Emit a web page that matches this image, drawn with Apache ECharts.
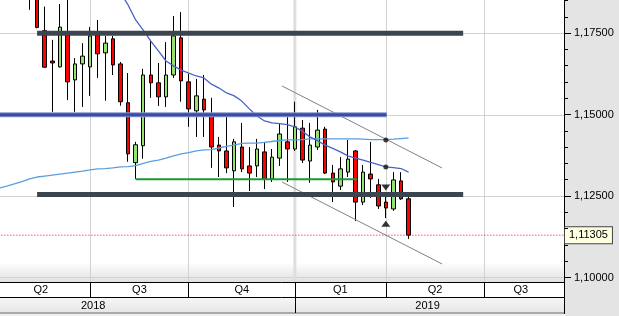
<!DOCTYPE html>
<html><head><meta charset="utf-8">
<script src="https://cdn.jsdelivr.net/npm/echarts@6/dist/echarts.min.js"></script>
<style>html,body{margin:0;padding:0;background:#fff;}
#c{width:619px;height:316px;background:linear-gradient(to right,#ffffff 0px,#ffffff 565px,#e4e4e4 565px,#e4e4e4 619px);}</style>
</head><body><div id="c"></div>
<script>
// ---- categories (weekly bars) ----
const weeks = ['2018-04-09','2018-04-16','2018-04-23','2018-04-30','2018-05-07','2018-05-14','2018-05-21','2018-05-28','2018-06-04','2018-06-11',
'2018-06-18','2018-06-25','2018-07-02','2018-07-09','2018-07-16','2018-07-23','2018-07-30','2018-08-06','2018-08-13','2018-08-20',
'2018-08-27','2018-09-03','2018-09-10','2018-09-17','2018-09-24','2018-10-01','2018-10-08','2018-10-15','2018-10-22','2018-10-29',
'2018-11-05','2018-11-12','2018-11-19','2018-11-26','2018-12-03','2018-12-10','2018-12-17','2018-12-24','2018-12-31','2019-01-07',
'2019-01-14','2019-01-21','2019-01-28','2019-02-04','2019-02-11','2019-02-18','2019-02-25','2019-03-04','2019-03-11','2019-03-18',
'2019-03-25','2019-04-01','2019-04-08','2019-04-15','2019-04-22','2019-04-29','2019-05-06','2019-05-13','2019-05-20','2019-05-27',
'2019-06-03','2019-06-10','2019-06-17','2019-06-24','2019-07-01','2019-07-08','2019-07-15','2019-07-22','2019-07-29','2019-08-05',
'2019-08-12','2019-08-19','2019-08-26','2019-09-02','2019-09-09'];

// ---- candles (from 2018-05-07) ----
const firstCandleWeek = '2018-05-07';
const opens  = [1.1960,1.1940,1.1758,1.1665,1.1647,1.1748,1.1607,1.1656,1.1647,1.1745,1.1690,1.1733,1.1656,1.1537,1.1353,1.1405,1.1622,1.1598,1.1555,1.1622,1.1736,1.1601,1.1512,1.1548,1.1496,1.1407,1.1389,1.1328,1.1401,1.1343,1.1343,1.1386,1.1303,1.1367,1.1417,1.1395,1.1459,1.1358,1.1401,1.1456,1.1321,1.1281,1.1324,1.1389,1.1232,1.1318,1.1285,1.1232,1.1211,1.1297,1.1242];
const closes = [1.1940,1.1768,1.1646,1.1659,1.1769,1.1601,1.1656,1.1680,1.1742,1.1687,1.1720,1.1653,1.1540,1.1380,1.1408,1.1622,1.1598,1.1555,1.1622,1.1742,1.1604,1.1518,1.1558,1.1515,1.1401,1.1389,1.1337,1.1417,1.1334,1.1321,1.1395,1.1303,1.1370,1.1441,1.1395,1.1463,1.1361,1.1407,1.1453,1.1321,1.1294,1.1334,1.1364,1.1232,1.1324,1.1303,1.1220,1.1214,1.1300,1.1242,1.11305];
const lows   = [1.1822,1.1765,1.1644,1.1509,1.1645,1.1545,1.1509,1.1524,1.1558,1.1613,1.1543,1.1622,1.1528,1.1356,1.1303,1.1365,1.1552,1.1527,1.1524,1.1613,1.1540,1.1463,1.1432,1.1432,1.1337,1.1309,1.1321,1.1217,1.1324,1.1266,1.1309,1.1272,1.1294,1.1343,1.1294,1.1389,1.1352,1.1291,1.1392,1.1318,1.1232,1.1269,1.1309,1.1174,1.1223,1.1245,1.1211,1.1183,1.1205,1.1239,1.1119];
const highs  = [1.1995,1.1997,1.1832,1.1730,1.1840,1.1860,1.1674,1.1720,1.1769,1.1791,1.1742,1.1742,1.1662,1.1628,1.1417,1.1641,1.1730,1.1659,1.1723,1.1803,1.1815,1.1625,1.1610,1.1622,1.1552,1.1432,1.1493,1.1426,1.1475,1.1401,1.1426,1.1417,1.1395,1.1472,1.1493,1.1540,1.1484,1.1475,1.1515,1.1463,1.1346,1.1370,1.1423,1.1392,1.1346,1.1417,1.1303,1.1260,1.1324,1.1324,1.1263];

// ---- moving averages ----
const maFastStart = '2018-04-09';
const maFast = [1.1275,1.1281,1.1288,1.1295,1.1303,1.1309,1.1312,1.1315,1.1318,1.1321,1.1324,1.1327,1.1331,1.1334,1.1335,1.1337,1.1340,1.1341,1.1344,1.1351,1.1357,1.1361,1.1367,1.1374,1.1380,1.1384,1.1389,1.1392,1.1393,1.1398,1.1403,1.1407,1.1412,1.1413,1.1413,1.1415,1.1418,1.1421,1.1423,1.1423,1.1424,1.1426,1.1426,1.1426,1.1426,1.1426,1.1426,1.1426,1.1425,1.1424,1.1424,1.1424,1.1425,1.1427,1.1429];
const maSlowStart = '2018-07-16';
const maSlow = [1.1950,1.1911,1.1874,1.1837,1.1791,1.1760,1.1726,1.1696,1.1665,1.1650,1.1637,1.1628,1.1619,1.1613,1.1594,1.1582,1.1567,1.1558,1.1542,1.1518,1.1496,1.1481,1.1475,1.1473,1.1470,1.1463,1.1449,1.1432,1.1420,1.1407,1.1397,1.1386,1.1374,1.1367,1.1361,1.1354,1.1347,1.1340,1.1338,1.1335,1.1324];

// ---- drawn levels (x = week index, y = price) ----
const resistanceTop = [[5, 1.175], [61.2, 1.175]];
const supportBottom = [[5, 1.1255], [61.2, 1.1255]];
const pivotLevel = [[-0.5, 1.15], [51.1, 1.15]];
const greenLevel = [[18, 1.1302], [47.25, 1.1302]];
const channelTop = [[37.31, 1.15883], [58.42, 1.13367]];
const channelBottom = [[37.31, 1.12937], [58.42, 1.10421]];
const crossDots = [[51, 1.14226], [51, 1.13397]];
const fractalHigh = [[51, 1.12768]];
const fractalLow = [[51, 1.11657]];

// ---- axes ----
const quarterBounds = [12, 25, 39, 51, 64];
const yearBoundWeek = 39;
const quarterLabelPos = [5.5, 18.5, 32, 45, 57.5, 68.8];
const quarterLabels = ['Q2','Q3','Q4','Q1','Q2','Q3'];
const yearBounds = [39];
const yearLabelPos = [12.4, 56.5];
const yearLabels = ['2018','2019'];
const priceTicks = [1.100, 1.125, 1.150, 1.175];
const minorPriceTicks = [1.105,1.110,1.115,1.120,1.130,1.135,1.140,1.145,1.155,1.160,1.165,1.170,1.180,1.185];
const yMin = 1.09868, yMax = 1.18522;
const xMin = -0.5, xMax = 74.5;

// ---- build ----
const start = weeks.indexOf(firstCandleWeek);
const candleData = weeks.map(() => ['-','-','-','-']);
opens.forEach((o, i) => { candleData[start + i] = [o, closes[i], lows[i], highs[i]]; });
const lastClose = closes[closes.length - 1];
const fs = weeks.indexOf(maFastStart), ss = weeks.indexOf(maSlowStart);
const maFastData = maFast.map((v, i) => [weeks[fs + i], v]);
const maSlowData = maSlow.map((v, i) => [weeks[ss + i], v]);
const FONT = "'Liberation Sans', Arial, sans-serif";
const fmtPrice = v => Number(v).toFixed(5).replace('.', ',');

function seg(data, color, width, z, type) {
  return { type: 'line', xAxisIndex: 1, yAxisIndex: 0, data: data, symbol: 'none', silent: true, z: z,
    lineStyle: { color: color, width: width, type: type || 'solid', cap: 'butt' }, animation: false };
}

const GRID = { left: -4.6, right: 55, top: 0, bottom: 34 };
const baseGraphic = [
  { type: 'rect', z: -1, shape: { x: 0, y: 262, width: 564, height: 20 },
    style: { fill: new echarts.graphic.LinearGradient(0, 0, 0, 1, [{ offset: 0, color: 'rgba(226,226,226,0)' }, { offset: 1, color: '#e0e0e0' }]) } },
  { type: 'rect', z: -1, shape: { x: 0, y: 297, width: 564, height: 16 },
    style: { fill: new echarts.graphic.LinearGradient(0, 0, 0, 1, [{ offset: 0, color: '#f7f7f7' }, { offset: 1, color: '#e6e6e6' }]) } },
  { type: 'rect', z: -1, shape: { x: 0, y: 312, width: 564, height: 2 }, style: { fill: '#a9a9a9' } },
  { type: 'rect', z: -1, shape: { x: 0, y: 314, width: 564, height: 2 }, style: { fill: '#f0f0f0' } },
  { type: 'line', z: 5, shape: { x1: 564.5, y1: 282, x2: 564.5, y2: 314 }, style: { stroke: '#000', lineWidth: 1 } }
];

const chart = echarts.init(document.getElementById('c'), null, { renderer: 'canvas' });
chart.setOption({
  animation: false,
  backgroundColor: 'transparent',
  graphic: baseGraphic,
  grid: { left: GRID.left, right: GRID.right, top: GRID.top, bottom: GRID.bottom, containLabel: false, outerBoundsMode: 'none' },
  xAxis: [
    { type: 'category', data: weeks, boundaryGap: true, show: false },
    { type: 'value', min: xMin, max: xMax, position: 'bottom',
      axisLine: { show: true, onZero: false, lineStyle: { color: '#000', width: 1 } },
      axisTick: { show: true, customValues: quarterBounds, length: 15, lineStyle: { color: '#000', width: 1 } },
      axisLabel: { show: true, customValues: quarterLabelPos, formatter: v => quarterLabels[quarterLabelPos.indexOf(v)],
        margin: 2, fontSize: 11, fontFamily: FONT, color: '#000' },
      splitLine: { show: true, lineStyle: { color: '#d2d2d2', width: 1 } } },
    { type: 'value', min: xMin, max: xMax, position: 'bottom', offset: 15,
      axisLine: { show: true, onZero: false, lineStyle: { color: '#000', width: 1 } },
      axisTick: { show: true, customValues: yearBounds, length: 16, lineStyle: { color: '#000', width: 1 } },
      axisLabel: { show: true, customValues: yearLabelPos, formatter: v => yearLabels[yearLabelPos.indexOf(v)],
        margin: 3, fontSize: 11, fontFamily: FONT, color: '#000' },
      splitLine: { show: false } }
  ],
  yAxis: [
    { type: 'value', position: 'right', min: yMin, max: yMax,
      axisLine: { show: true, onZero: false, lineStyle: { color: '#000', width: 1 } },
      axisTick: { show: false, customValues: priceTicks },
      axisLabel: { show: true, customValues: priceTicks, formatter: fmtPrice,
        margin: 10, fontSize: 11, fontFamily: FONT, color: '#000' },
      splitLine: { show: true, lineStyle: { color: '#d2d2d2', width: 1 } } }
  ],
  series: [
    seg([[yearBoundWeek, yMin], [yearBoundWeek, yMax]], '#dedede', 3, 1),
    { type: 'candlestick', xAxisIndex: 0, yAxisIndex: 0, data: candleData, barWidth: 4, z: 2, clip: true,
      itemStyle: { color: '#94e36e', color0: '#ff0000', borderColor: '#000', borderColor0: '#000', borderWidth: 1 } },
    { type: 'line', xAxisIndex: 0, yAxisIndex: 0, data: maFastData, symbol: 'none', z: 3, silent: true,
      lineStyle: { color: '#5a9ee0', width: 1.3 } },
    { type: 'line', xAxisIndex: 0, yAxisIndex: 0, data: maSlowData, symbol: 'none', z: 3, silent: true,
      lineStyle: { color: '#4a62c8', width: 1.3 } },
    { type: 'line', xAxisIndex: 1, yAxisIndex: 0, data: [[xMin, lastClose], [xMax, lastClose]], symbol: 'none', z: 4, silent: true,
      lineStyle: { color: '#ff0000', width: 1, type: [1, 2] },
      endLabel: { show: true, distance: 1, formatter: () => fmtPrice(lastClose),
        backgroundColor: '#ffffe1', borderColor: '#444', borderWidth: 1, padding: [3, 4, 2, 4],
        fontSize: 11, fontFamily: FONT, color: '#000' } },
    seg(channelTop, '#808080', 1, 4),
    seg(channelBottom, '#808080', 1, 4),
    seg(greenLevel, '#179c34', 2, 4),
    seg(resistanceTop, '#3a4550', 5, 5),
    seg(supportBottom, '#3a4550', 5, 5),
    seg(pivotLevel, '#8a96cf', 5, 5),
    seg(pivotLevel, '#3a4ca4', 3, 5),
    { type: 'scatter', xAxisIndex: 1, yAxisIndex: 0, data: crossDots, symbol: 'circle', symbolSize: 5, z: 6, silent: true,
      itemStyle: { color: '#111' } },
    { type: 'scatter', xAxisIndex: 1, yAxisIndex: 0, data: fractalHigh, symbol: 'triangle', symbolRotate: 180, symbolSize: [9, 6], z: 6, silent: true,
      itemStyle: { color: '#000' } },
    { type: 'scatter', xAxisIndex: 1, yAxisIndex: 0, data: fractalLow, symbol: 'triangle', symbolSize: [9, 6], z: 6, silent: true,
      itemStyle: { color: '#000' } }
  ]
});

// price-axis tick marks placed via the y scale
const plotH = 316 - GRID.top - GRID.bottom;
const axisX = 619 - GRID.right;
function priceToY(v) {
  let p = NaN;
  try { const r = chart.convertToPixel({ gridIndex: 0 }, [xMax, v]); p = r && r[1]; } catch (e) { p = NaN; }
  if (!isFinite(p)) p = GRID.top + (yMax - v) / (yMax - yMin) * plotH;
  return Math.floor(p) + 0.5;
}
function tickGraphic(values, len) {
  return values.map(v => {
    const py = priceToY(v);
    return { type: 'line', z: 20, silent: true, shape: { x1: axisX, y1: py, x2: axisX + len + 1, y2: py },
      style: { stroke: '#000', lineWidth: 1 } };
  });
}
chart.setOption({ graphic: baseGraphic.concat(tickGraphic(priceTicks, 6), tickGraphic(minorPriceTicks, 3)) });
</script></body></html>
